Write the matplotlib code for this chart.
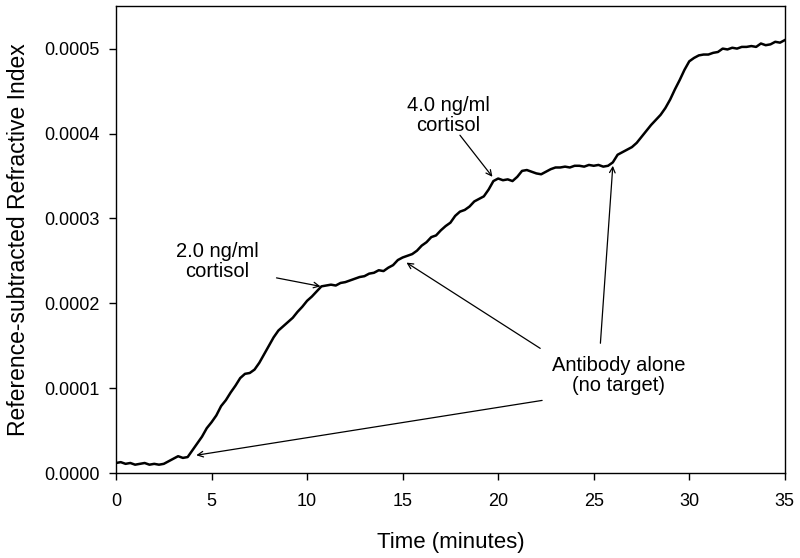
import matplotlib
matplotlib.use("Agg")
import matplotlib.pyplot as plt
from matplotlib.ticker import FormatStrFormatter, MultipleLocator
import numpy as np

plt.rcParams['font.family'] = ['Liberation Sans', 'DejaVu Sans']

time_min = np.arange(0, 35.01, 0.25)
# refractive index signal, in units of 1e-4
ri_e4 = [
    0.12, 0.13, 0.11, 0.12, 0.10, 0.11, 0.12, 0.10, 0.11, 0.10,
    0.11, 0.14, 0.17, 0.20, 0.18, 0.19, 0.27, 0.35, 0.43, 0.53,
    0.60, 0.68, 0.79, 0.86, 0.95, 1.03, 1.12, 1.17, 1.18, 1.22,
    1.30, 1.40, 1.50, 1.60, 1.68, 1.73, 1.78, 1.83, 1.90, 1.96,
    2.03, 2.08, 2.14, 2.20, 2.21, 2.22, 2.21, 2.24, 2.25, 2.27,
    2.29, 2.31, 2.32, 2.35, 2.36, 2.39, 2.38, 2.42, 2.45, 2.51,
    2.54, 2.56, 2.58, 2.62, 2.68, 2.72, 2.78, 2.80, 2.86, 2.91,
    2.95, 3.03, 3.08, 3.10, 3.14, 3.20, 3.23, 3.26, 3.34, 3.44,
    3.47, 3.45, 3.46, 3.44, 3.49, 3.56, 3.57, 3.55, 3.53, 3.52,
    3.55, 3.58, 3.60, 3.60, 3.61, 3.60, 3.62, 3.62, 3.61, 3.63,
    3.62, 3.63, 3.61, 3.62, 3.66, 3.75, 3.78, 3.81, 3.84, 3.89,
    3.96, 4.03, 4.10, 4.16, 4.22, 4.30, 4.40, 4.52, 4.63, 4.75,
    4.85, 4.89, 4.92, 4.93, 4.93, 4.95, 4.96, 5.00, 4.99, 5.01,
    5.00, 5.02, 5.02, 5.03, 5.02, 5.06, 5.04, 5.05, 5.08, 5.07,
    5.10,
]
ri = np.array(ri_e4) * 1e-4

fig = plt.figure(figsize=(8, 5.58), dpi=100)
ax = fig.add_axes([0.145, 0.152, 0.836, 0.837])
ax.plot(time_min, ri, color='black', lw=1.8)

ax.set_xlim(0, 35)
ax.set_ylim(0, 0.00055)
ax.xaxis.set_major_locator(MultipleLocator(5))
ax.yaxis.set_major_locator(MultipleLocator(0.0001))
ax.yaxis.set_major_formatter(FormatStrFormatter('%.4f'))
ax.tick_params(direction='out', length=5, width=1, labelsize=13)
ax.tick_params(axis='x', pad=9)
ax.tick_params(axis='y', pad=7)
for s in ax.spines.values():
    s.set_linewidth(1)
ax.set_xlabel('Time (minutes)', fontsize=16, labelpad=16)
ax.set_ylabel('Reference-subtracted Refractive Index', fontsize=16.5, labelpad=10)

arrow = dict(arrowstyle='->', color='black', lw=0.9, shrinkA=0, shrinkB=0)
txt = dict(fontsize=14.5, ha='center', va='center', linespacing=1.05)

ax.text(5.3, 0.000249, '2.0 ng/ml\ncortisol', **txt)
ax.annotate('', xy=(10.7, 0.000220), xytext=(8.4, 0.000230), arrowprops=arrow)

ax.text(17.4, 0.000421, '4.0 ng/ml\ncortisol', **txt)
ax.annotate('', xy=(19.7, 0.000349), xytext=(18.0, 0.000398), arrowprops=arrow)

ax.text(26.3, 0.000115, 'Antibody alone\n(no target)', **txt)
ax.annotate('', xy=(15.2, 0.000248), xytext=(22.2, 0.000147), arrowprops=arrow)
ax.annotate('', xy=(26.0, 0.000362), xytext=(25.35, 0.000153), arrowprops=arrow)
ax.annotate('', xy=(4.2, 0.0000211), xytext=(22.3, 0.0000857), arrowprops=arrow)

fig.savefig('out.png', dpi=100)
